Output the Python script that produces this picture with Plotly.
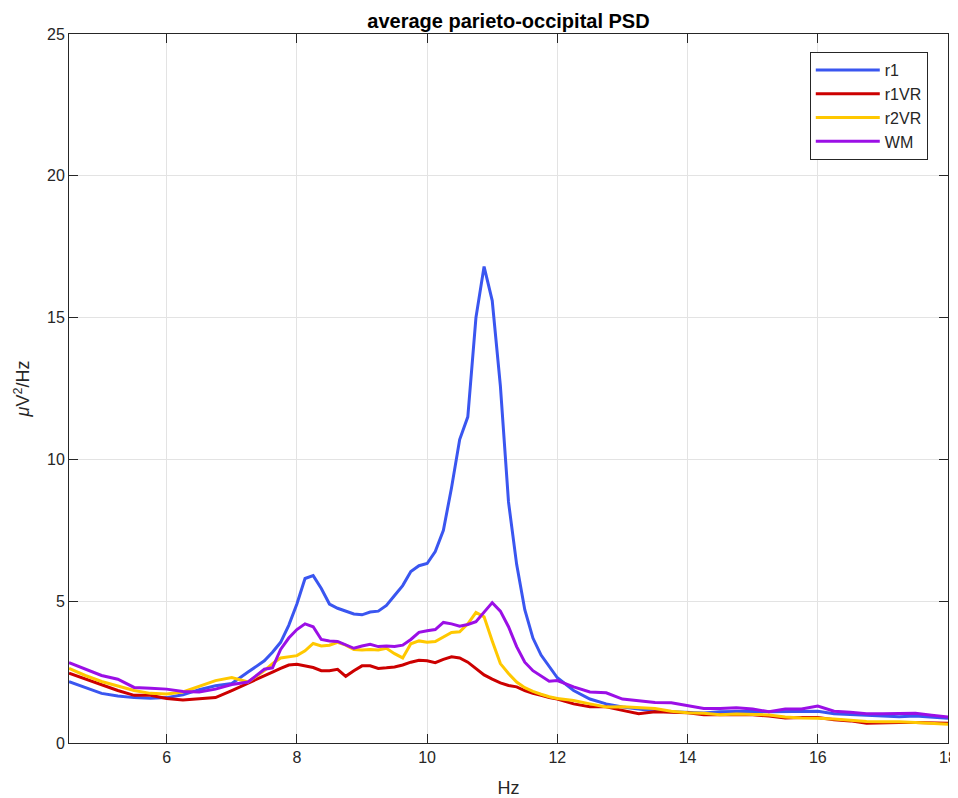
import plotly.graph_objects as go

freq = [4.5, 4.75, 5.0, 5.25, 5.5, 5.75, 6.0, 6.25, 6.5, 6.75, 7.0, 7.25, 7.5,
        7.625, 7.75, 7.875, 8.0, 8.125, 8.25, 8.375, 8.5, 8.625, 8.75, 8.875, 9.0,
        9.125, 9.25, 9.375, 9.5, 9.625, 9.75, 9.875, 10.0, 10.125, 10.25, 10.375, 10.5,
        10.625, 10.75, 10.875, 11.0, 11.125, 11.25, 11.375, 11.5, 11.625, 11.75, 11.875, 12.0,
        12.25, 12.5, 12.75, 13.0, 13.25, 13.5, 13.75, 14.0, 14.25, 14.5, 14.75, 15.0,
        15.25, 15.5, 15.75, 16.0, 16.25, 16.5, 16.75, 17.0, 17.25, 17.5, 17.75, 18.0]

r1 = [2.16, 1.95, 1.75, 1.66, 1.6, 1.58, 1.6, 1.7, 1.88, 2.02, 2.1, 2.5, 2.9,
      3.2, 3.55, 4.15, 4.9, 5.8, 5.9, 5.45, 4.9, 4.75, 4.65, 4.55, 4.52,
      4.62, 4.65, 4.85, 5.2, 5.55, 6.05, 6.25, 6.33, 6.75, 7.5, 9.0, 10.7,
      11.5, 15.0, 16.8, 15.6, 12.6, 8.5, 6.3, 4.7, 3.7, 3.1, 2.7, 2.3,
      1.85, 1.55, 1.38, 1.27, 1.2, 1.13, 1.1, 1.07, 1.06, 1.1, 1.12, 1.12,
      1.1, 1.1, 1.1, 1.12, 1.03, 1.0, 0.98, 0.95, 0.93, 0.95, 0.9, 0.87]

r1VR = [2.46, 2.25, 2.06, 1.85, 1.68, 1.68, 1.57, 1.52, 1.56, 1.6, 1.85, 2.1, 2.35,
        2.5, 2.63, 2.75, 2.78, 2.72, 2.66, 2.55, 2.55, 2.6, 2.35, 2.55, 2.72,
        2.72, 2.63, 2.65, 2.68, 2.75, 2.85, 2.92, 2.9, 2.83, 2.95, 3.04, 3.0,
        2.85, 2.62, 2.4, 2.25, 2.12, 2.03, 1.98, 1.85, 1.75, 1.68, 1.6, 1.55,
        1.38, 1.28, 1.28, 1.15, 1.03, 1.1, 1.08, 1.07, 1.0, 1.0, 0.98, 1.0,
        0.95, 0.88, 0.9, 0.9, 0.82, 0.78, 0.7, 0.72, 0.72, 0.72, 0.72, 0.7]

r2VR = [2.63, 2.38, 2.17, 2.02, 1.85, 1.75, 1.73, 1.8, 2.0, 2.2, 2.31, 2.15, 2.55,
        2.8, 3.0, 3.05, 3.08, 3.25, 3.51, 3.42, 3.45, 3.55, 3.45, 3.3, 3.28,
        3.3, 3.28, 3.34, 3.15, 3.0, 3.5, 3.6, 3.55, 3.58, 3.75, 3.9, 3.92,
        4.2, 4.6, 4.45, 3.6, 2.8, 2.45, 2.15, 1.95, 1.82, 1.72, 1.63, 1.57,
        1.5, 1.38, 1.27, 1.28, 1.25, 1.22, 1.12, 1.07, 1.05, 1.0, 1.02, 1.0,
        0.99, 0.92, 0.88, 0.87, 0.85, 0.8, 0.76, 0.75, 0.75, 0.72, 0.68, 0.66]

WM = [2.83, 2.6, 2.38, 2.25, 1.96, 1.93, 1.9, 1.82, 1.8, 1.9, 2.06, 2.15, 2.6,
      2.65, 3.3, 3.7, 4.0, 4.2, 4.1, 3.65, 3.6, 3.58, 3.45, 3.34, 3.42,
      3.48, 3.4, 3.42, 3.4, 3.45, 3.65, 3.9, 3.96, 4.0, 4.25, 4.2, 4.12,
      4.18, 4.28, 4.6, 4.95, 4.65, 4.1, 3.4, 2.85, 2.55, 2.35, 2.18, 2.2,
      1.98, 1.8, 1.77, 1.55, 1.48, 1.43, 1.42, 1.32, 1.22, 1.22, 1.24, 1.2,
      1.1, 1.2, 1.2, 1.3, 1.12, 1.08, 1.03, 1.03, 1.03, 1.05, 0.98, 0.92]

series_names = ["r1", "r1VR", "r2VR", "WM"]
series_values = [r1, r1VR, r2VR, WM]
series_colors = ["#3a56f0", "#cc0000", "#ffc800", "#9b0fe6"]

x_ticks = [6, 8, 10, 12, 14, 16, 18]
y_ticks = [0, 5, 10, 15, 20, 25]

fig = go.Figure()
for name, vals, col in zip(series_names, series_values, series_colors):
    fig.add_trace(go.Scatter(x=freq, y=vals, mode="lines", name=name,
                             line=dict(color=col, width=3)))

font_family = "Liberation Sans, Arial, sans-serif"
axis_common = dict(
    showline=True, mirror="ticks", linecolor="#262626", linewidth=1,
    ticks="inside", ticklen=9, tickcolor="#262626",
    showgrid=True, gridcolor="#e3e3e3", gridwidth=1,
    zeroline=False, automargin=False, ticklabeloverflow="allow",
    tickfont=dict(size=16, color="#262626", family=font_family),
)

# page body has an 8px margin, so the figure is sized to fit within the window
fig.update_layout(
    width=950, height=790,
    margin=dict(l=61, r=10, t=26, b=55),
    paper_bgcolor="white", plot_bgcolor="white",
    title=dict(text="<b>average parieto-occipital PSD</b>", xref="paper", x=0.5,
               xanchor="center", yref="container", y=1 - 13 / 790, yanchor="middle",
               font=dict(size=20, color="#000000", family=font_family)),
    xaxis=dict(range=[4.5, 18], tickvals=x_ticks,
               title=dict(text="Hz", standoff=18,
                          font=dict(size=18, color="#262626", family=font_family)),
               **axis_common),
    yaxis=dict(range=[0, 25], tickvals=y_ticks,
               title=dict(text="<i>μ</i>V<sup>2</sup>/Hz", standoff=12,
                          font=dict(size=18, color="#262626", family=font_family)),
               **axis_common),
    legend=dict(x=0.977, y=0.9746, xanchor="right", yanchor="top",
                bgcolor="white", bordercolor="#262626", borderwidth=1,
                font=dict(size=16, color="#262626", family=font_family),
                tracegroupgap=0, itemwidth=64),
    showlegend=True,
)

fig.write_html("out.html")
